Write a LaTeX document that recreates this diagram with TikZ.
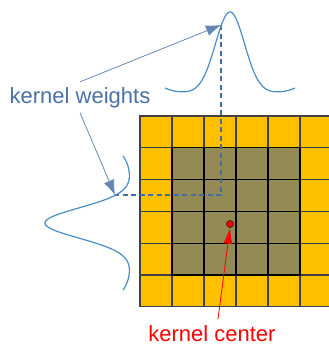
\documentclass[tikz,border=0pt]{standalone}
\usepackage{fontspec}
\setmainfont{Liberation Sans}
\usetikzlibrary{arrows.meta}
\definecolor{cellorange}{HTML}{FFC000}
\definecolor{cellolive}{HTML}{948A54}
\definecolor{wtblue}{HTML}{4A70A6}
\definecolor{curveblue}{HTML}{4A8CC6}
\definecolor{tipblue}{HTML}{2E5C96}

\begin{document}
\begin{tikzpicture}[x=1pt,y=-1pt,
  cell/.style={draw=black!75,line width=1.1pt,fill=cellorange},
  inner/.style={cell,draw=black,line width=1.3pt,fill=cellolive},
  curve/.style={curveblue,line width=1.2pt,smooth,samples=90},
  wtext/.style={font=\fontsize{22}{26}\selectfont,inner sep=5pt,anchor=base},
  arrow/.style={-{Latex[length=15pt,width=11pt]},line width=0.7pt,draw=wtblue!85,fill=tipblue},
  redarrow/.style={-{Latex[length=16pt,width=9pt]},line width=0.8pt,red},
  dashline/.style={tipblue!90,line width=2pt,dash pattern=on 5pt off 3.5pt},
  dot/.style={circle,draw=black,line width=0.5pt,fill=red,inner sep=0pt,minimum size=7pt}
]
\useasboundingbox (0,0) rectangle (329,346);
% image grid
\foreach \i in {0,...,5}
  \foreach \j in {0,...,5}
    \path[cell] (140+32*\i,116+31.8*\j) rectangle ++(32,31.8);
\foreach \i in {1,...,4}
  \foreach \j in {1,...,4}
    \path[inner] (140+32*\i,116+31.8*\j) rectangle ++(32,31.8);
\draw[line width=2.2pt] (236,147.8) -- (236,275.2);

\coordinate (toppeak) at (221,25);
\coordinate (leftpt) at (115,195);
\draw[dashline] (toppeak) |- (leftpt);

% weight curves
\draw[curve] plot[domain=-65:65] ({230+\x},{93-81*exp(-((\x/20.6)^2))-5*(\x/65)^6});
\draw[curve] plot[domain=-67:67] ({131-86*exp(-((\x/21.3)^2))-8*(\x/67)^6},{223+\x});

\node[wtext,text=wtblue] (weights) at (80,103) {kernel weights};
\draw[arrow] (weights.north) -- (toppeak);
\draw[arrow] (weights.south) -- (leftpt);

\node[dot] (kc) at (230,224) {};
\node[wtext,text=red,inner sep=6pt] (center) at (212,341) {kernel center};
\draw[redarrow] ([xshift=6pt]center.north) -- (kc.south);
\end{tikzpicture}
\end{document}
